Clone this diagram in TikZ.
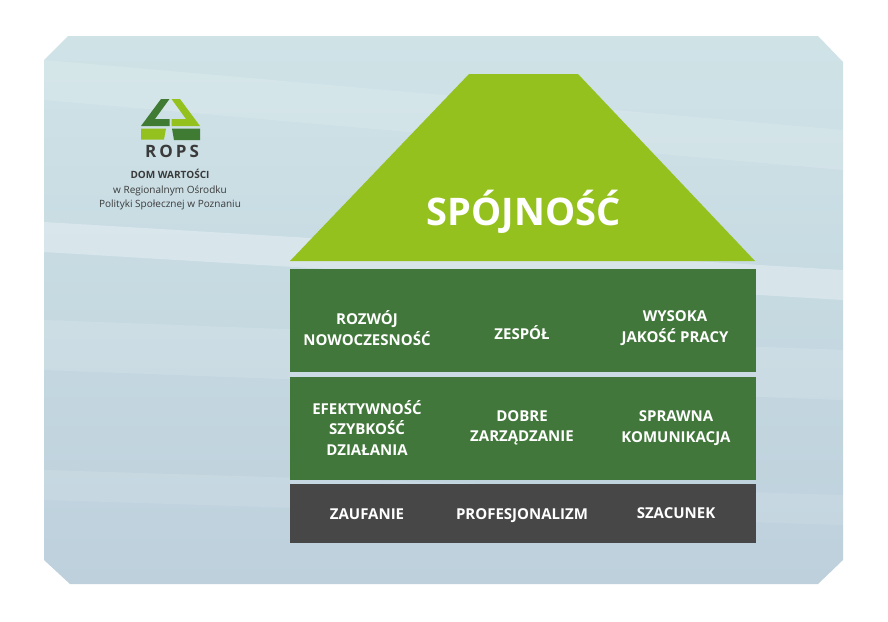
\documentclass[tikz,border=0pt]{standalone}
\usepackage{fontspec}
\setmainfont{Open Sans}
\newfontfamily\ropsfont[LetterSpace=18]{Open Sans}
\definecolor{roofgreen}{HTML}{95C11F}
\definecolor{rowgreen}{HTML}{41773A}
\definecolor{rowgrey}{HTML}{474747}
\definecolor{logogrey}{HTML}{3A3A3A}
\definecolor{logodark}{HTML}{3F7B33}
\definecolor{paneltop}{HTML}{CFE3E7}
\definecolor{panelmid}{HTML}{E0E8EB}
\definecolor{panelbot}{HTML}{BDD0DC}

\begin{document}
\begin{tikzpicture}[x=1pt,y=-1pt,
  row/.style={minimum width=466pt, inner sep=0pt, outer sep=0pt},
  rowtext/.style={text=white, font=\fontsize{15}{20.5}\selectfont\bfseries, align=center},
  logotext/.style={text=logogrey, font=\fontsize{10}{14.5}\selectfont, align=center}]
\useasboundingbox (0,0) rectangle (888,621);
\fill[white] (0,0) rectangle (888,621);
\shade[top color=paneltop, middle color=panelmid, bottom color=panelbot]
  (68,36) -- (818,36) -- (843,62) -- (843,560) -- (818,584) -- (70,584) -- (44,560) -- (44,60) -- cycle;
\begin{scope}
\clip (68,36) -- (818,36) -- (843,62) -- (843,560) -- (818,584) -- (70,584) -- (44,560) -- (44,60) -- cycle;
\fill[white, opacity=0.15] (44,60) -- (843,130) -- (843,170) -- (44,100) -- cycle;
\fill[white, opacity=0.3] (44,222) -- (843,270) -- (843,300) -- (44,252) -- cycle;
\fill[white, opacity=0.12] (44,320) -- (843,350) -- (843,400) -- (44,370) -- cycle;
\fill[white, opacity=0.1] (44,470) -- (843,495) -- (843,525) -- (44,500) -- cycle;
\end{scope}
% logo
\fill[logodark] (161,99) -- (169.5,99) -- (155,119) -- (169.5,119) -- (169.5,126) -- (141,126) -- cycle;
\fill[roofgreen] (171.5,99) -- (180,99) -- (200,126) -- (171.5,126) -- (171.5,119) -- (186,119) -- cycle;
\fill[roofgreen] (141,128.5) -- (166,128.5) -- (164,139.5) -- (141,139.5) -- cycle;
\fill[logodark] (172,128.5) -- (200,128.5) -- (200,140) -- (174,140) -- cycle;
\node[text=logogrey, font=\ropsfont\fontsize{17}{17}\selectfont\bfseries] (rops) at (172,151) {ROPS};
\node[logotext] (ropsname) at (170,190) {\textbf{DOM WARTOŚCI}\\w Regionalnym Ośrodku\\Polityki Społecznej w Poznaniu};
% roof
\fill[roofgreen] (469,74) -- (578,74) -- (755,261) -- (290,261) -- cycle;
\node[anchor=base, text=white, font=\fontsize{38}{38}\selectfont\bfseries] (roof) at (523.5,225) {SPÓJNOŚĆ};
% rows
\node[row, fill=rowgreen, minimum height=103pt] (rowone) at (523,320.5) {};
\node[row, fill=rowgreen, minimum height=103pt] (rowtwo) at (523,428.5) {};
\node[row, fill=rowgrey, minimum height=59pt] (rowthree) at (523,513.5) {};
\node[rowtext] (rozwoj) at (367,328) {ROZWÓJ\\NOWOCZESNOŚĆ};
\node[rowtext] (zespol) at (522,333) {ZESPÓŁ};
\node[rowtext] (jakosc) at (675,328) {WYSOKA\\JAKOŚĆ PRACY};
\node[rowtext] (efekt) at (367,428) {EFEKTYWNOŚĆ\\SZYBKOŚĆ\\DZIAŁANIA};
\node[rowtext] (zarzad) at (522,428) {DOBRE\\ZARZĄDZANIE};
\node[rowtext] (komunik) at (676,428) {SPRAWNA\\KOMUNIKACJA};
\node[rowtext] (zaufanie) at (367,514) {ZAUFANIE};
\node[rowtext] (profes) at (522,516) {PROFESJONALIZM};
\node[rowtext] (szacunek) at (676,513) {SZACUNEK};
\end{tikzpicture}
\end{document}
